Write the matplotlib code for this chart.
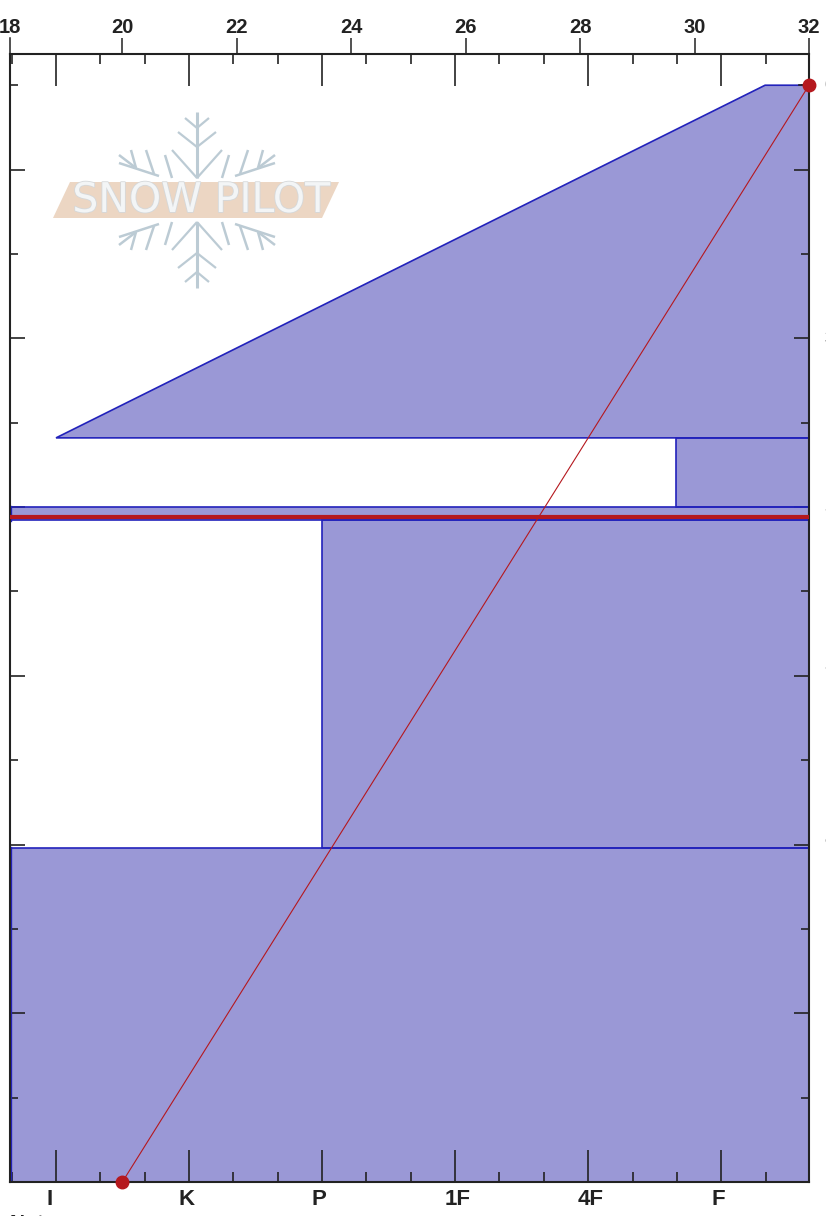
import matplotlib
matplotlib.use('Agg')
import matplotlib.pyplot as plt
import matplotlib.patheffects as pe
import numpy as np

W, H = 826, 1216
left, right, top, bottom = 10, 809, 54, 1182

hardness_labels = ['I', 'K', 'P', '1F', '4F', 'F']
hardness_pos = [1, 2, 3, 4, 5, 6]

# layers, height in cm (bottom, top) and hand hardness at each edge
layer_bottom = [0, 39.6, 78.5, 80.0, 88.2]
layer_top = [39.6, 78.5, 80.0, 88.2, 130]
hard_bottom = [0.654, 3.0, 0.654, 5.66, 1.0]
hard_top = [0.654, 3.0, 0.654, 5.66, 6.33]
hard_max = 6.66

temp_height = [0, 130]
temp_value = [20, 32]
temp_ticks = [20, 22, 24, 26, 28, 30, 32]
grain_line_height = 78.8

depth_heights = [130, 120, 100, 80, 60, 40, 0]
depth_labels = ['0', '10', '30', '50', '70', '90', '130']

fill_col = '#9a98d6'
blue = '#2222bb'
red = '#b5181e'
ink = '#222222'

plt.rcParams['font.family'] = ['Liberation Sans', 'DejaVu Sans']

fig = plt.figure(figsize=(W / 100, H / 100), dpi=100)
ax = fig.add_axes([left / W, 1 - bottom / H, (right - left) / W, (bottom - top) / H])
ax.set_xlim(0.654, hard_max)
ax.set_ylim(0, 133.7)
ax.patch.set_alpha(0)

for b, t, hb, ht in zip(layer_bottom, layer_top, hard_bottom, hard_top):
    xs = [hard_max, hb, ht, hard_max]
    ys = [b, b, t, t]
    ax.fill(xs, ys, facecolor=fill_col, edgecolor='none', zorder=1)
    ax.plot(xs, ys, color=blue, lw=1.2, zorder=2, solid_joinstyle='miter')

ax.plot([0.654, 0.654], [0, 39.6], color=blue, lw=2.4, zorder=2)
ax.plot([0.654, 0.654], [78.5, 80], color=blue, lw=2.4, zorder=2)

# temperature on top axis
ax2 = ax.twiny()
ax2.set_xlim(18.037, 32)
ax2.set_xticks(temp_ticks)
ax2.tick_params(axis='x', direction='out', length=11.5, width=1.1, color=ink, pad=0.5, labelsize=14.5)
for t in ax2.get_xticklabels():
    t.set_fontweight('bold')
    t.set_color(ink)
for s in ax2.spines.values():
    s.set_visible(False)

# the 18 tick sits right on the axis corner
ax2.plot([18.037, 18.037], [1, 1.0141], transform=ax2.get_xaxis_transform(), color=ink, lw=1.1, clip_on=False)
ax2.annotate('18', (18.037, 1), xycoords=ax2.get_xaxis_transform(), xytext=(0, 12), textcoords='offset points',
             ha='center', va='bottom', fontsize=14.5, fontweight='bold', color=ink, annotation_clip=False)

ax2.plot([18.037, 32], [grain_line_height] * 2, color=red, lw=3.0, zorder=4, solid_capstyle='butt')
ax2.plot(temp_value, temp_height, color=red, lw=0.8, zorder=4, marker='o', ms=9, mec=red, mfc=red, clip_on=False)

# hardness ticks, bottom axis and mirrored on top, all inward
ax.set_xticks(hardness_pos)
ax.set_xticklabels([])
ax.set_xticks(np.arange(2, 20) / 3, minor=True)
ax.tick_params(axis='x', which='major', direction='in', length=23, width=1.2, color=ink, top=True, bottom=True, labelbottom=False, labeltop=False)
ax.tick_params(axis='x', which='minor', direction='in', length=7.5, width=1.2, color=ink, top=True, bottom=True)

ax.set_yticks(np.arange(0, 121, 20))
ax.set_yticks(np.arange(10, 131, 20), minor=True)
ax.tick_params(axis='y', which='major', direction='in', length=10.5, width=1.2, color=ink, left=True, right=True, labelleft=False, labelright=False)
ax.tick_params(axis='y', which='minor', direction='in', length=6, width=1.2, color=ink, left=True, right=True)
ax.plot([1, 0.9875], [130 / 133.7] * 2, transform=ax.transAxes, color=ink, lw=1.2, zorder=3)
for s in ax.spines.values():
    s.set_linewidth(1.5)
    s.set_color(ink)
    s.set_zorder(5)

for p, lab, off in zip(hardness_pos, hardness_labels, [-5, -1.5, -2, 2, 2, -2]):
    ax.annotate(lab, (p, 0), xytext=(off, -5), textcoords='offset points', ha='center', va='top',
                fontsize=16, fontweight='bold', color=ink, annotation_clip=False)

fig.text(10 / W, 1 - 1214 / H, 'Notes', fontsize=15, fontweight='bold', color=ink, ha='left', va='top')

# depth labels run off the right edge of the picture
for v, lab in zip(depth_heights, depth_labels):
    ax.annotate(lab, (1, v), xycoords=('axes fraction', 'data'), xytext=(11.2, 0), textcoords='offset points',
                ha='left', va='center', fontsize=14.5, fontweight='bold', color=ink, annotation_clip=False)

# snow pilot logo, drawn in pixel coordinates
logo = fig.add_axes([0, 0, 1, 1], zorder=6)
logo.set_xlim(0, W)
logo.set_ylim(H, 0)
logo.axis('off')

flake = '#bccbd4'
cx, cy = 197, 200
top_arm = [((0, 22), (0, 88)), ((0, 22), (-25, 50)), ((0, 22), (25, 50)),
           ((0, 53), (-19, 68)), ((0, 53), (19, 68)), ((0, 72), (-12, 82)), ((0, 72), (12, 82))]
side_arm = [((38, 24), (78, 37)), ((43, 26), (51, 50)), ((61, 32), (66, 50)), ((61, 32), (78, 45)),
            ((25, 22), (32, 45))]
for sy in [1, -1]:
    for (x0, r0), (x1, r1) in top_arm:
        logo.plot([cx + x0, cx + x1], [cy - sy * r0, cy - sy * r1], color=flake,
                  lw=2.2 if x0 == x1 else 1.6, solid_capstyle='butt')
    for sx in [1, -1]:
        for (x0, r0), (x1, r1) in side_arm:
            logo.plot([cx + sx * x0, cx + sx * x1], [cy - sy * r0, cy - sy * r1], color=flake,
                      lw=1.8, solid_capstyle='butt')

logo.fill([53, 70, 339, 322], [218, 182, 182, 218], color='#ecd6c3', lw=0)
logo.text(201, 201, 'SNOW PILOT', fontsize=29.5, family='DejaVu Sans', color='#f3f5f6', ha='center', va='center',
          path_effects=[pe.withStroke(linewidth=1.2, foreground='#d5d8da')])

fig.savefig('out.png', dpi=100)
